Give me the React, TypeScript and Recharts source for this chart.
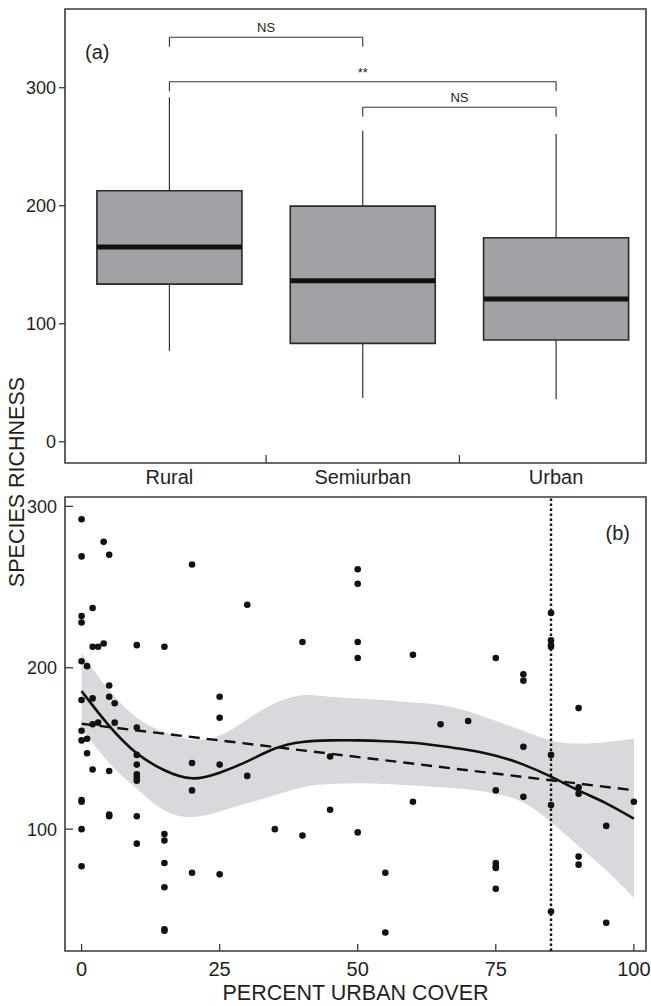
import React from 'react';
import {
  ComposedChart,
  XAxis,
  YAxis,
  ReferenceArea,
  ReferenceLine,
  Scatter,
  Line,
  Area,
} from 'recharts';

// ---- panel (a): box plot summaries per landscape class
const classes = ['Rural', 'Semiurban', 'Urban'];
const classPos = [1, 2, 3];
const classBreaks = [1.5, 2.5];
const whiskerLow = [77, 37, 36];
const boxQ1 = [133.6, 83.4, 86.2];
const boxMedian = [165, 136.4, 121];
const boxQ3 = [212.7, 199.7, 172.9];
const whiskerHigh = [292, 263.6, 260.8];
const boxHalf = 0.375;

// pairwise comparisons above the boxes
const pairFrom = [1, 1, 2];
const pairTo = [2, 3, 3];
const pairLabel = ['NS', '**', 'NS'];
const pairTop = [342.7, 305, 283.4];
const pairLegEnd = [334.7, 297, 275.4];

// ---- panel (b): richness vs percent urban cover
const coverPct = [
  0, 0, 0, 0, 0, 0, 0, 0, 0, 0, 0, 0,
  1, 1, 1,
  2, 2, 2, 2, 2,
  3, 3,
  4, 4,
  5, 5, 5, 5, 5, 5,
  6, 6,
  10, 10, 10, 10, 10, 10, 10, 10, 10,
  15, 15, 15, 15, 15, 15, 15,
  20, 20, 20, 20,
  25, 25, 25, 25,
  30, 30,
  35,
  40, 40,
  45, 45,
  50, 50, 50, 50, 50,
  55, 55,
  60, 60,
  65,
  70,
  75, 75, 75, 75, 75, 75,
  80, 80, 80, 80,
  85, 85, 85, 85, 85, 85, 85,
  90, 90, 90, 90, 90,
  95, 95,
  100,
];
const richness = [
  292, 269, 232, 228, 204, 180, 161, 155, 118, 117, 100, 77,
  201, 156, 147,
  237, 213, 181, 165, 137,
  213, 166,
  278, 215,
  270, 189, 182, 136, 109, 108,
  178, 166,
  214, 163, 146, 140, 134, 132, 130, 108, 91,
  213, 97, 93, 79, 64, 38, 37,
  264, 141, 124, 73,
  182, 169, 140, 72,
  239, 133,
  100,
  216, 96,
  145, 112,
  261, 252, 216, 206, 98,
  73, 36,
  208, 117,
  165,
  167,
  206, 124, 79, 77, 76, 63,
  196, 192, 151, 120,
  234, 217, 214, 213, 146, 115, 49,
  175, 126, 122, 83, 78,
  102, 42,
  117,
];

// loess fit with its confidence band, and the linear fit
const fitX = [0, 5, 10, 15, 20, 25, 30, 35, 40, 45, 50, 55, 60, 65, 70, 75, 80, 85, 90, 95, 100];
const loessFit = [185.5, 164, 147, 136.5, 131.5, 135, 142, 150, 154, 155, 155, 154.5, 153.5, 151.5, 149, 145.5, 140, 132.5, 124, 116, 106.5];
const bandLow = [163, 141, 125, 111.5, 107.5, 111, 116, 121, 126, 128, 128.5, 128, 127, 126, 124.5, 122, 116.5, 104.5, 89.5, 74.5, 57.5];
const bandHigh = [209, 186, 169, 160, 155.5, 158, 168, 178, 183, 182, 181, 180, 178.5, 177, 173, 167, 161, 155, 153, 154, 156];
const linX = [0, 100];
const linFit = [165.3, 124.1];
const urbanCut = 85;

const xTicksB = [0, 25, 50, 75, 100];
const yTicksA = [0, 100, 200, 300];
const yTicksB = [100, 200, 300];

const fitRows = fitX.map((x, i) => ({ x, loess: loessFit[i], band: [bandLow[i], bandHigh[i]] }));
const linRows = linX.map((x, i) => ({ x, lin: linFit[i] }));
const points = coverPct.map((x, i) => ({ x, y: richness[i] }));

const FONT = "'Liberation Sans', Arial, sans-serif";
const NARROW = "'Liberation Sans Narrow', 'Liberation Sans', Arial, sans-serif";
const INK = '#231f20';
const FRAME = '#3a3a3a';

const domA_x: [number, number] = [0.46, 3.465];
const domA_y: [number, number] = [-18, 366.7];
const domB_x: [number, number] = [-3, 102.2];
const domB_y: [number, number] = [24.5, 305.8];

const X_GAP_A = 7;
const X_GAP_B = 11;
const Y_GAP_B = 8;
const IN_TICK = 8;

// category labels under panel (a); the class breaks get a short inward tick instead
function ClassTick(props: any) {
  const { x, y, payload } = props;
  const idx = classPos.indexOf(payload.value);
  if (idx < 0) {
    const y0 = y - X_GAP_A;
    return <line x1={x} x2={x} y1={y0} y2={y0 - IN_TICK} stroke={FRAME} strokeWidth={1.3} />;
  }
  return (
    <text x={x} y={y} dy="0.71em" textAnchor="middle" fontSize={20} fontFamily={FONT} fill={INK}>
      {classes[idx]}
    </text>
  );
}

// panel (b) x ticks point inward, labels sit outside
function CoverTick(props: any) {
  const { x, y, payload } = props;
  const y0 = y - X_GAP_B;
  return (
    <g>
      <line x1={x} x2={x} y1={y0} y2={y0 - 7} stroke={FRAME} strokeWidth={1.3} />
      <text x={x} y={y} dy="0.71em" textAnchor="middle" fontSize={20} fontFamily={FONT} fill={INK}>
        {payload.value}
      </text>
    </g>
  );
}

function RichTick(props: any) {
  const { x, y, payload } = props;
  const x0 = x + Y_GAP_B;
  return (
    <g>
      <line x1={x0} x2={x0 + IN_TICK} y1={y} y2={y} stroke={FRAME} strokeWidth={1.3} />
      <text x={x} y={y} dy="0.355em" textAnchor="end" fontSize={18} fontFamily={NARROW} fill={INK}>
        {payload.value}
      </text>
    </g>
  );
}

function CornerLabel(props: any) {
  const { viewBox, text, dx, dy, anchor } = props;
  if (!viewBox) return null;
  const x = anchor === 'end' ? viewBox.x + viewBox.width - dx : viewBox.x + dx;
  return (
    <text x={x} y={viewBox.y + dy} textAnchor={anchor} fontSize={20} fontFamily={FONT} fill={INK}>
      {text}
    </text>
  );
}

function Dot(props: any) {
  return <circle cx={props.cx} cy={props.cy} r={3.3} fill="#111" />;
}

export default function App() {
  return (
    <div style={{ position: 'absolute', left: 0, top: 0, width: 651, height: 1006, background: '#fff' }}>
      {/* panel (a) */}
      <div style={{ position: 'absolute', left: 0, top: 0 }}>
        <ComposedChart width={651} height={490} margin={{ top: 9, right: 5, bottom: 0, left: 0 }}>
          <XAxis
            type="number"
            dataKey="x"
            domain={domA_x}
            allowDataOverflow
            ticks={[...classPos, ...classBreaks].sort()}
            interval={0}
            tickLine={false}
            axisLine={false}
            tickSize={0}
            tickMargin={X_GAP_A}
            height={27}
            tick={<ClassTick />}
          />
          <YAxis
            type="number"
            domain={domA_y}
            allowDataOverflow
            ticks={yTicksA}
            width={65}
            axisLine={false}
            tickSize={6}
            tickMargin={3}
            tickLine={{ stroke: FRAME, strokeWidth: 1.3 }}
            tick={{ fontSize: 18, fill: INK, fontFamily: NARROW }}
          />
          {classPos.map((p, i) => (
            <ReferenceArea
              key={'box' + i}
              x1={p - boxHalf}
              x2={p + boxHalf}
              y1={boxQ1[i]}
              y2={boxQ3[i]}
              fill="#a0a1a4"
              fillOpacity={1}
              stroke="#2a2a2a"
              strokeWidth={1.6}
              ifOverflow="visible"
            />
          ))}
          {classPos.map((p, i) => (
            <ReferenceLine
              key={'wh' + i}
              segment={[{ x: p, y: boxQ3[i] }, { x: p, y: whiskerHigh[i] }]}
              stroke="#333"
              strokeWidth={1.2}
              ifOverflow="visible"
            />
          ))}
          {classPos.map((p, i) => (
            <ReferenceLine
              key={'wl' + i}
              segment={[{ x: p, y: whiskerLow[i] }, { x: p, y: boxQ1[i] }]}
              stroke="#333"
              strokeWidth={1.2}
              ifOverflow="visible"
            />
          ))}
          {classPos.map((p, i) => (
            <ReferenceLine
              key={'md' + i}
              segment={[{ x: p - boxHalf, y: boxMedian[i] }, { x: p + boxHalf, y: boxMedian[i] }]}
              stroke="#111"
              strokeWidth={5}
              ifOverflow="visible"
            />
          ))}
          {pairFrom.map((a, i) => (
            <ReferenceLine
              key={'pt' + i}
              segment={[{ x: a, y: pairTop[i] }, { x: pairTo[i], y: pairTop[i] }]}
              stroke="#333"
              strokeWidth={1.1}
              ifOverflow="visible"
              label={{ value: pairLabel[i], position: 'top', offset: 5, fontSize: 13, fill: INK, fontFamily: NARROW }}
            />
          ))}
          {pairFrom.map((a, i) => (
            <ReferenceLine
              key={'pa' + i}
              segment={[{ x: a, y: pairTop[i] }, { x: a, y: pairLegEnd[i] }]}
              stroke="#333"
              strokeWidth={1.1}
              ifOverflow="visible"
            />
          ))}
          {pairTo.map((b, i) => (
            <ReferenceLine
              key={'pb' + i}
              segment={[{ x: b, y: pairTop[i] }, { x: b, y: pairLegEnd[i] }]}
              stroke="#333"
              strokeWidth={1.1}
              ifOverflow="visible"
            />
          ))}
          <ReferenceArea
            x1={domA_x[0]}
            x2={domA_x[1]}
            y1={domA_y[0]}
            y2={domA_y[1]}
            fill="none"
            stroke={FRAME}
            strokeWidth={1.6}
            ifOverflow="visible"
            label={<CornerLabel text="(a)" dx={20} dy={49.5} anchor="start" />}
          />
        </ComposedChart>
      </div>

      {/* panel (b) */}
      <div style={{ position: 'absolute', left: 0, top: 490 }}>
        <ComposedChart width={651} height={516} data={fitRows} margin={{ top: 7, right: 5, bottom: 0, left: 0 }}>
          <XAxis
            type="number"
            dataKey="x"
            domain={domB_x}
            allowDataOverflow
            ticks={xTicksB}
            interval={0}
            tickLine={false}
            axisLine={false}
            tickSize={0}
            tickMargin={X_GAP_B}
            height={55}
            tick={<CoverTick />}
            label={{ value: 'PERCENT URBAN COVER', position: 'insideBottom', offset: 6, fontSize: 21.5, fill: INK, fontFamily: FONT }}
          />
          <YAxis
            type="number"
            domain={domB_y}
            allowDataOverflow
            ticks={yTicksB}
            interval={0}
            width={65}
            axisLine={false}
            tickLine={false}
            tickSize={0}
            tickMargin={Y_GAP_B}
            tick={<RichTick />}
          />
          <Area
            type="natural"
            dataKey="band"
            fill="#d8d9dc"
            fillOpacity={1}
            stroke="none"
            isAnimationActive={false}
          />
          <Line
            type="natural"
            dataKey="loess"
            stroke="#111"
            strokeWidth={2.6}
            dot={false}
            isAnimationActive={false}
          />
          <Line
            data={linRows}
            type="linear"
            dataKey="lin"
            stroke="#111"
            strokeWidth={2.4}
            strokeDasharray="11 7"
            dot={false}
            isAnimationActive={false}
          />
          <Scatter data={points} dataKey="y" shape={<Dot />} isAnimationActive={false} />
          <ReferenceLine
            x={urbanCut}
            stroke="#111"
            strokeWidth={2.4}
            strokeDasharray="2.4 2.6"
          />
          <ReferenceArea
            x1={domB_x[0]}
            x2={domB_x[1]}
            y1={domB_y[0]}
            y2={domB_y[1]}
            fill="none"
            stroke={FRAME}
            strokeWidth={1.6}
            ifOverflow="visible"
            label={<CornerLabel text="(b)" dx={16} dy={42.5} anchor="end" />}
          />
        </ComposedChart>
      </div>

      <div
        style={{
          position: 'absolute',
          left: 17,
          top: 482,
          width: 320,
          textAlign: 'center',
          transform: 'translate(-50%, -50%) rotate(-90deg)',
          fontFamily: FONT,
          fontSize: 21.5,
          color: INK,
          whiteSpace: 'nowrap',
          lineHeight: '24px',
        }}
      >
        SPECIES RICHNESS
      </div>
    </div>
  );
}
